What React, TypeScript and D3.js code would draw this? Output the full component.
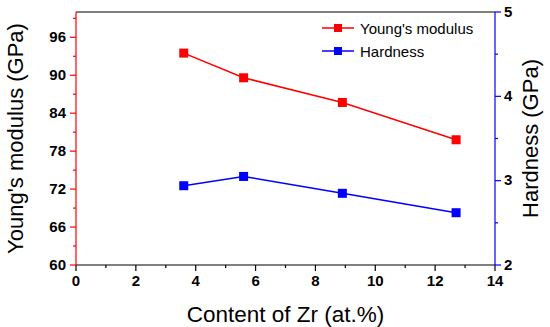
import * as d3 from 'd3';

const zrContent = [3.6, 5.6, 8.9, 12.7];
const youngsModulus = [93.5, 89.6, 85.7, 79.8];
const hardness = [2.94, 3.05, 2.85, 2.62];

const xTicks = [0, 2, 4, 6, 8, 10, 12, 14];
const leftTicks = [60, 66, 72, 78, 84, 90, 96];
const rightTicks = [2, 3, 4, 5];

const width = 550;
const height = 327;
const margin = { top: 12, right: 55, bottom: 62, left: 76 };

const red = '#ff0000';
const blue = '#0000ff';
const font = '"Liberation Sans", Arial, Helvetica, sans-serif';

export default function App() {
  const x = d3.scaleLinear().domain([0, 14]).range([margin.left, width - margin.right]);
  const yL = d3.scaleLinear().domain([60, 100]).range([height - margin.bottom, margin.top]);
  const yR = d3.scaleLinear().domain([2, 5]).range([height - margin.bottom, margin.top]);

  const x0 = margin.left;
  const x1 = width - margin.right;
  const yb = height - margin.bottom;
  const yt = margin.top;

  const youngLine = d3
    .line<number>()
    .x((_, i) => x(zrContent[i]))
    .y(d => yL(d));
  const hardLine = d3
    .line<number>()
    .x((_, i) => x(zrContent[i]))
    .y(d => yR(d));

  const xMinor = d3.range(1, 14, 2);
  const leftMinor = d3.range(63, 100, 6);
  const rightMinor = [2.5, 3.5, 4.5];

  const ms = 9;

  return (
    <svg width={width} height={height} style={{ position: 'absolute', left: 0, top: 0 }} fontFamily={font}>
      <rect width={width} height={height} fill="#fff" />

      {/* frame */}
      <line x1={x0} x2={x1} y1={yt} y2={yt} stroke="#000" strokeWidth={1.2} />
      <line x1={x0} x2={x1} y1={yb} y2={yb} stroke="#000" strokeWidth={1.2} />

      {/* bottom axis */}
      {xTicks.map(t => (
        <g key={'x' + t}>
          <line x1={x(t)} x2={x(t)} y1={yb} y2={yb + 6} stroke="#000" strokeWidth={1.2} />
          <text x={x(t)} y={yb + 21} textAnchor="middle" fontSize={15} fontWeight="bold">
            {t}
          </text>
        </g>
      ))}
      {xMinor.map(t => (
        <line key={'xm' + t} x1={x(t)} x2={x(t)} y1={yb} y2={yb + 3} stroke="#000" strokeWidth={1.2} />
      ))}
      <text x={(x0 + x1) / 2} y={321.5} textAnchor="middle" fontSize={22.5}>
        Content of Zr (at.%)
      </text>

      {/* left axis */}
      <line x1={x0} x2={x0} y1={yt} y2={yb} stroke={red} strokeWidth={1.2} />
      {leftTicks.map(t => (
        <g key={'l' + t}>
          <line x1={x0 - 6} x2={x0} y1={yL(t)} y2={yL(t)} stroke={red} strokeWidth={1.2} />
          <text x={x0 - 10} y={yL(t) + 4.5} textAnchor="end" fontSize={15} fontWeight="bold">
            {t}
          </text>
        </g>
      ))}
      {leftMinor.map(t => (
        <line key={'lm' + t} x1={x0 - 3} x2={x0} y1={yL(t)} y2={yL(t)} stroke={red} strokeWidth={1.2} />
      ))}
      <text
        transform={`translate(${22.5},${(yt + yb) / 2}) rotate(-90)`}
        textAnchor="middle"
        fontSize={22}
      >
        Young's modulus (GPa)
      </text>

      {/* right axis */}
      <line x1={x1} x2={x1} y1={yt} y2={yb} stroke={blue} strokeWidth={1.2} />
      {rightTicks.map(t => (
        <g key={'r' + t}>
          <line x1={x1} x2={x1 + 6} y1={yR(t)} y2={yR(t)} stroke={blue} strokeWidth={1.2} />
          <text x={x1 + 9} y={yR(t) + 4.5} textAnchor="start" fontSize={15} fontWeight="bold">
            {t}
          </text>
        </g>
      ))}
      {rightMinor.map(t => (
        <line key={'rm' + t} x1={x1} x2={x1 + 3} y1={yR(t)} y2={yR(t)} stroke={blue} strokeWidth={1.2} />
      ))}
      <text
        transform={`translate(${538},${(yt + yb) / 2}) rotate(-90)`}
        textAnchor="middle"
        fontSize={22}
      >
        Hardness (GPa)
      </text>

      {/* series */}
      <path d={youngLine(youngsModulus) ?? ''} fill="none" stroke={red} strokeWidth={1.5} />
      <path d={hardLine(hardness) ?? ''} fill="none" stroke={blue} strokeWidth={1.5} />
      {youngsModulus.map((v, i) => (
        <rect key={'ym' + i} x={x(zrContent[i]) - ms / 2} y={yL(v) - ms / 2} width={ms} height={ms} fill={red} />
      ))}
      {hardness.map((v, i) => (
        <rect key={'hm' + i} x={x(zrContent[i]) - ms / 2} y={yR(v) - ms / 2} width={ms} height={ms} fill={blue} />
      ))}

      {/* legend */}
      {[
        { label: "Young's modulus", color: red, y: 28 },
        { label: 'Hardness', color: blue, y: 51 },
      ].map(l => (
        <g key={l.label}>
          <line x1={322} x2={354} y1={l.y} y2={l.y} stroke={l.color} strokeWidth={1.5} />
          <rect x={338 - 4} y={l.y - 4} width={8} height={8} fill={l.color} />
          <text x={360} y={l.y + 5.5} fontSize={15}>
            {l.label}
          </text>
        </g>
      ))}
    </svg>
  );
}
